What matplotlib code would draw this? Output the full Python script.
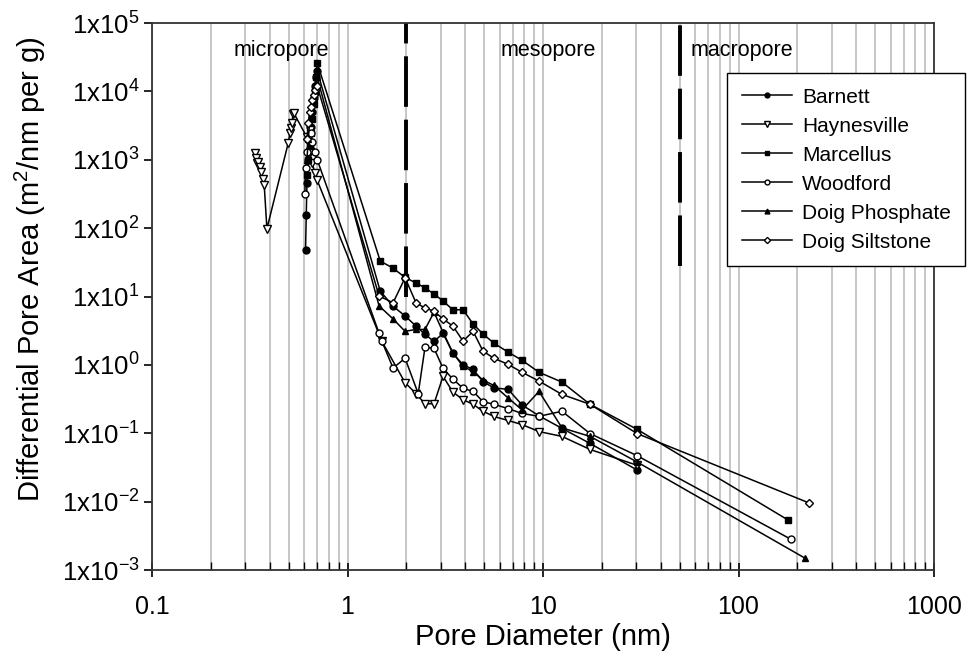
import numpy as np
import matplotlib
matplotlib.use('Agg')
import matplotlib.pyplot as plt
from matplotlib.ticker import FixedLocator, FuncFormatter, NullFormatter

plt.rcParams['font.family'] = ['Liberation Sans', 'DejaVu Sans']
plt.rcParams['mathtext.fontset'] = 'custom'
plt.rcParams['mathtext.rm'] = 'Liberation Sans'
plt.rcParams['mathtext.it'] = 'Liberation Sans:italic'
plt.rcParams['mathtext.bf'] = 'Liberation Sans:bold'

# pore diameter (nm) / differential pore area (m2/nm per g)
barnett_x = [0.61, 0.615, 0.62, 0.63, 0.64, 0.65, 0.66, 0.67, 0.68, 0.69, 0.70,
             1.47, 1.71, 1.97, 2.24, 2.49, 2.77, 3.08, 3.46, 3.90, 4.39, 4.93,
             5.61, 6.62, 7.81, 9.54, 12.5, 17.4, 30.3]
barnett_y = [48, 158, 450, 1000, 1800, 3000, 5000, 8000, 12000, 16000, 20000,
             12, 7.2, 5.2, 3.7, 2.8, 2.2, 2.9, 1.48, 1.0, 0.86, 0.57,
             0.46, 0.44, 0.26, 0.18, 0.118, 0.071, 0.029]

haynesville_x = [0.335, 0.340, 0.345, 0.350, 0.355, 0.362, 0.370, 0.375, 0.387,
                 0.497, 0.508, 0.514, 0.520, 0.526, 0.532,
                 0.62, 0.64, 0.66, 0.68, 0.70,
                 1.50, 1.97, 2.24, 2.49, 2.77, 3.08, 3.46, 3.90, 4.39, 4.93,
                 5.61, 6.62, 7.81, 9.54, 12.5, 17.4, 30.3]
haynesville_y = [1240, 1050, 885, 916, 773, 653, 520, 421, 98,
                 1740, 2443, 2891, 3420, 4645, 4800,
                 2130, 1300, 900, 650, 500,
                 2.2, 0.55, 0.38, 0.27, 0.27, 0.68, 0.40, 0.31, 0.265, 0.21,
                 0.176, 0.154, 0.134, 0.106, 0.090, 0.058, 0.034]

marcellus_x = [0.62, 0.63, 0.64, 0.65, 0.66, 0.67, 0.68, 0.69, 0.70,
               1.47, 1.71, 1.97, 2.24, 2.49, 2.77, 3.08, 3.46, 3.90, 4.39, 4.93,
               5.61, 6.62, 7.81, 9.54, 12.5, 17.4, 30.3, 179]
marcellus_y = [600, 1000, 1600, 2500, 4000, 6500, 10000, 16000, 26000,
               33, 26, 19, 15.8, 13.4, 10.9, 8.6, 6.4, 6.4, 3.96, 2.83,
               2.08, 1.54, 1.17, 0.78, 0.56, 0.265, 0.114, 0.0054]

woodford_x = [0.605, 0.61, 0.62, 0.63, 0.64, 0.65, 0.66, 0.68, 0.70,
              1.45, 1.50, 1.71, 1.97, 2.30, 2.49, 2.77, 3.08, 3.46, 3.90, 4.39,
              4.93, 5.61, 6.62, 7.81, 9.54, 12.5, 17.4, 30.3, 186]
woodford_y = [320, 750, 1300, 2000, 3000, 2500, 1800, 1300, 1000,
              2.9, 2.2, 0.9, 1.25, 0.38, 1.8, 1.75, 0.89, 0.62, 0.455, 0.41,
              0.29, 0.265, 0.23, 0.195, 0.177, 0.21, 0.099, 0.047, 0.0028]

doig_phos_x = [0.62, 0.63, 0.64, 0.65, 0.66, 0.68, 0.70,
               1.45, 1.71, 1.97, 2.24, 2.49, 2.77, 3.08, 3.46, 3.90, 4.39,
               4.93, 5.61, 6.62, 7.81, 9.54, 12.5, 17.4, 30.3, 218]
doig_phos_y = [1000, 2000, 3500, 5500, 8000, 12000, 16000,
               7.3, 4.7, 3.1, 3.3, 3.3, 5.9, 3.0, 1.5, 0.95, 0.8,
               0.6, 0.5, 0.33, 0.22, 0.41, 0.12, 0.09, 0.038, 0.0015]

doig_silt_x = [0.62, 0.63, 0.64, 0.65, 0.66, 0.67, 0.68, 0.70,
               1.45, 1.71, 1.97, 2.24, 2.49, 2.77, 3.08, 3.46, 3.90, 4.39,
               4.93, 5.61, 6.62, 7.81, 9.54, 12.5, 17.4, 30.3, 229]
doig_silt_y = [2000, 3500, 5000, 6000, 7500, 9000, 10500, 12000,
               10.2, 8.1, 18.8, 8.1, 6.8, 6.1, 4.7, 3.7, 2.23, 3.1,
               1.59, 1.25, 1.02, 0.78, 0.58, 0.37, 0.265, 0.099, 0.0096]

names = ['Barnett', 'Haynesville', 'Marcellus', 'Woodford',
         'Doig Phosphate', 'Doig Siltstone']
xs = [barnett_x, haynesville_x, marcellus_x, woodford_x, doig_phos_x, doig_silt_x]
ys = [barnett_y, haynesville_y, marcellus_y, woodford_y, doig_phos_y, doig_silt_y]
markers = ['o', 'v', 's', 'o', '^', 'D']
faces = ['k', 'w', 'k', 'w', 'k', 'w']
msizes = [5, 6, 5, 5, 5, 4.5]

# pore size class boundaries (nm) and labels
bounds = [2, 50]
bound_bottom = [10, 28]
region_names = ['micropore', 'mesopore', 'macropore']
region_x = [0.46, 10.6, 104]

fig = plt.figure(figsize=(9.67, 6.58), dpi=100)
ax = fig.add_axes([0.1572, 0.1337, 0.8087, 0.8313])
ax.set_xscale('log')
ax.set_yscale('log')
ax.set_xlim(0.1, 1000)
ax.set_ylim(1e-3, 1e5)

# light vertical grid at every x tick
for dec in [0.1, 1, 10, 100]:
    for k in range(1, 10):
        ax.axvline(dec * k, color='#c6c6c6', lw=1.4, zorder=0)

for b, lo in zip(bounds, bound_bottom):
    ax.plot([b, b], [lo, 1e5], color='k', lw=2.8, dashes=(13, 3.3), zorder=1)

for name, x, y, m, fc, ms in zip(names, xs, ys, markers, faces, msizes):
    ax.plot(x, y, color='k', lw=1.1, marker=m, ms=ms, mfc=fc, mec='k',
            mew=1.0, label=name, zorder=3)

for t, xp in zip(region_names, region_x):
    ax.text(xp, 4e4, t, ha='center', va='center', fontsize=15.5)

ax.xaxis.set_major_locator(FixedLocator([0.1, 1, 10, 100, 1000]))
ax.xaxis.set_major_formatter(FuncFormatter(lambda v, p: f'{v:g}'))
ax.xaxis.set_minor_formatter(NullFormatter())
ax.yaxis.set_major_locator(FixedLocator([10.0 ** e for e in range(-3, 6)]))
ax.yaxis.set_major_formatter(FuncFormatter(
    lambda v, p: r'1x10$^{%d}$' % int(round(np.log10(v)))))
ax.yaxis.set_minor_locator(FixedLocator([]))
ax.tick_params(axis='x', which='major', direction='inout', length=10, width=1.2,
               labelsize=18, pad=13)
ax.tick_params(axis='x', which='minor', direction='in', length=6, width=1)
ax.tick_params(axis='y', which='major', direction='out', length=6, width=1.2,
               labelsize=18.5, pad=3)
for s in ax.spines.values():
    s.set_linewidth(1.3)
    s.set_color('#333333')

ax.set_xlabel('Pore Diameter (nm)', fontsize=21, labelpad=3)
ax.set_ylabel('Differential Pore Area (m$^2$/nm per g)', fontsize=21)
ax.yaxis.set_label_coords(-0.133, 0.55)

leg = ax.legend(loc='upper left', bbox_to_anchor=(0.7353, 0.9086), fontsize=15,
                fancybox=False, framealpha=1, edgecolor='k', handlelength=2.4,
                markerscale=0.7, borderpad=0.7, labelspacing=0.48,
                handletextpad=0.5, borderaxespad=0)
leg.get_frame().set_linewidth(1.0)

fig.savefig('out.png', dpi=100)
